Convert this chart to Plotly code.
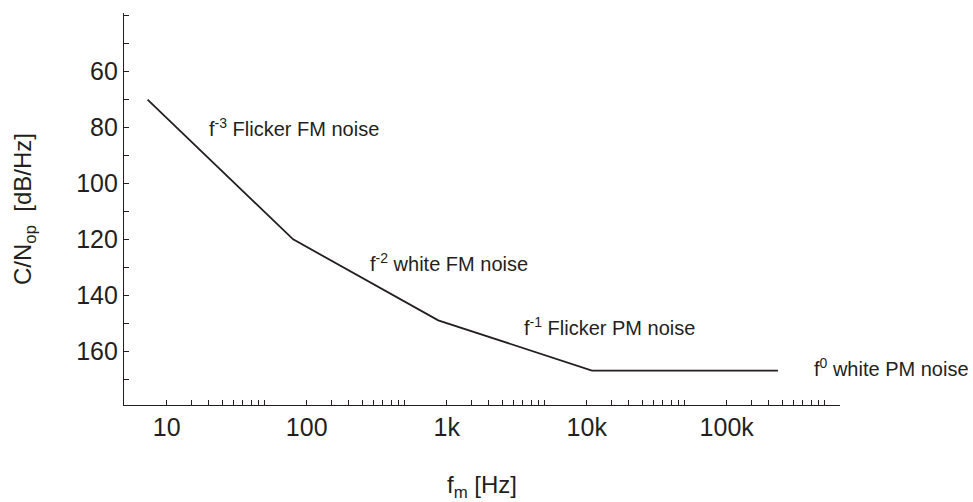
import math
import plotly.graph_objects as go

# Data
freq_hz = [7.3, 80, 870, 10900, 232000]
cn_db = [70, 120, 149, 167, 167]

y_tick_vals = [40, 50, 60, 70, 80, 90, 100, 110, 120, 130, 140, 150, 160, 170]
y_label_vals = [60, 80, 100, 120, 140, 160]
y_label_text = ["60", "80", "100", "120", "140", "160"]

x_minor_mult = [10, 15, 20, 25, 30, 35, 40, 45, 50]
x_decades = [1, 10, 100, 1000, 10000]
x_label_vals = [10, 100, 1000, 10000, 100000]
x_label_text = ["10", "100", "1k", "10k", "100k"]

region_labels = ["f<sup>-3</sup> Flicker FM noise", "f<sup>-2</sup> white FM noise",
                 "f<sup>-1</sup> Flicker PM noise", "f<sup>0</sup> white PM noise"]
region_x = [19.4, 274, 3450, 406000]
region_y = [80, 128.2, 151.2, 166]

x_tick_vals = [m * d for d in x_decades for m in x_minor_mult]

FONT = "Liberation Sans, Arial, sans-serif"
TXT = "#231f20"
XR = [0.695, 5.809]
YR = [179.3, 39.0]

fig = go.Figure()
fig.add_trace(go.Scatter(x=freq_hz, y=cn_db, mode="lines",
                         line=dict(color="#231f20", width=1.8),
                         showlegend=False, hoverinfo="skip"))
# invisible helper trace to activate tick-only axes
fig.add_trace(go.Scatter(x=[freq_hz[0]], y=[cn_db[0]], xaxis="x2", yaxis="y2",
                         mode="markers", marker=dict(opacity=0),
                         showlegend=False, hoverinfo="skip"))

for t, xv, yv in zip(region_labels, region_x, region_y):
    fig.add_annotation(x=math.log10(xv), y=yv, xref="x", yref="y",
                       text=t, showarrow=False, xanchor="left", yanchor="middle",
                       font=dict(family=FONT, size=20, color=TXT))

fig.update_layout(
    width=973, height=502,
    margin=dict(l=124, r=133, t=13, b=97, autoexpand=False),
    plot_bgcolor="white", paper_bgcolor="white",
    font=dict(family=FONT, color=TXT),
    xaxis=dict(
        type="log", range=XR, automargin=False,
        tickmode="array", tickvals=x_label_vals, ticktext=x_label_text, ticks="",
        showline=True, linecolor="#231f20", linewidth=1.2,
        showgrid=False, zeroline=False,
        tickfont=dict(family=FONT, size=25, color=TXT),
        ticklabelstandoff=0,
        title=dict(text="f<sub>m</sub> [Hz]", font=dict(family=FONT, size=24, color=TXT), standoff=39),
    ),
    yaxis=dict(
        range=YR, automargin=False,
        tickmode="array", tickvals=y_label_vals, ticktext=y_label_text, ticks="",
        showline=True, linecolor="#231f20", linewidth=1.2,
        showgrid=False, zeroline=False,
        tickfont=dict(family=FONT, size=25, color=TXT),
        ticklabelstandoff=0,
        title=dict(text="C/N<sub>op</sub>  [dB/Hz]", font=dict(family=FONT, size=24, color=TXT), standoff=37),
    ),
    xaxis2=dict(
        type="log", range=XR, overlaying="x", anchor="y", automargin=False,
        tickmode="array", tickvals=x_tick_vals, showticklabels=False,
        ticks="inside", ticklen=5, tickcolor="#231f20", tickwidth=1,
        showgrid=False, zeroline=False, showline=False,
    ),
    yaxis2=dict(
        range=YR, overlaying="y", anchor="x", automargin=False,
        tickmode="array", tickvals=y_tick_vals, showticklabels=False,
        ticks="inside", ticklen=5, tickcolor="#231f20", tickwidth=1,
        showgrid=False, zeroline=False, showline=False,
    ),
)

fig.write_html("out.html")
